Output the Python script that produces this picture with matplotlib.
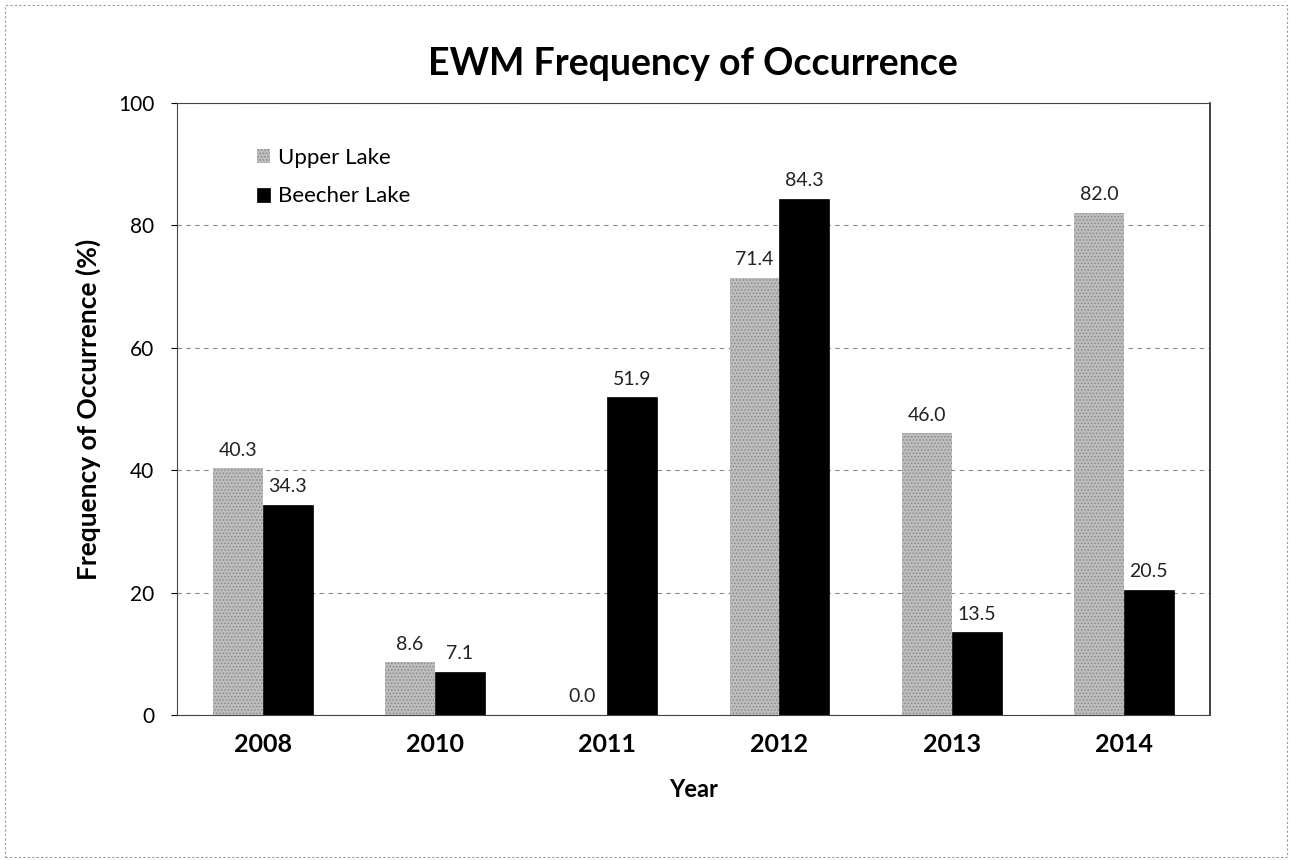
import matplotlib
matplotlib.use("Agg")
import matplotlib.pyplot as plt
import numpy as np
from matplotlib.patches import Rectangle

plt.rcParams['font.family'] = ['Lato', 'DejaVu Sans']
plt.rcParams['hatch.linewidth'] = 0.7

years = ['2008', '2010', '2011', '2012', '2013', '2014']
upper_lake = [40.3, 8.6, 0.0, 71.4, 46.0, 82.0]
beecher_lake = [34.3, 7.1, 51.9, 84.3, 13.5, 20.5]
series_names = ['Upper Lake', 'Beecher Lake']
y_ticks = [0, 20, 40, 60, 80, 100]

fig = plt.figure(figsize=(12.9, 8.6), dpi=100)
ax = fig.add_axes([0.137, 0.1686, 0.801, 0.7116])

x = np.arange(len(years))
w = 0.29
plt.rcParams['hatch.color'] = '#6a6a6a'
b1 = ax.bar(x - w/2, upper_lake, w, color='#bdbdbd', hatch='.....', edgecolor='#8a8a8a',
            linewidth=0, label=series_names[0], zorder=3)
b2 = ax.bar(x + w/2, beecher_lake, w, color='black', edgecolor='black', linewidth=0.5,
            label=series_names[1], zorder=3)

for bars, vals in ((b1, upper_lake), (b2, beecher_lake)):
    for rect, v in zip(bars, vals):
        ax.annotate(f'{v:.1f}', (rect.get_x() + rect.get_width()/2, v),
                    xytext=(0, 7), textcoords='offset points', ha='center', va='bottom',
                    fontsize=14, color='#222222')

ax.set_xlim(-0.5, len(years) - 0.5)
ax.set_ylim(0, 100)
ax.set_yticks(y_ticks)
ax.set_yticklabels([str(t) for t in y_ticks], fontsize=15)
ax.set_xticks(x)
ax.set_xticklabels(years, fontsize=18, fontweight='bold')
ax.tick_params(axis='x', length=0, pad=13)
ax.tick_params(axis='y', length=4, pad=12)
ax.yaxis.grid(True, linestyle=(0, (4, 4)), color='#888888', linewidth=0.8, zorder=0)
ax.set_axisbelow(True)
for s in ax.spines.values():
    s.set_color('#444444')
    s.set_linewidth(0.8)
ax.spines['right'].set_linewidth(1.2)
ax.spines['right'].set_color('#222222')

ax.set_title('EWM Frequency of Occurrence', fontsize=27, fontweight='bold', pad=20)
ax.set_ylabel('Frequency of Occurrence (%)', fontsize=19, fontweight='bold', labelpad=12)
ax.set_xlabel('Year', fontsize=17, fontweight='bold', labelpad=16)

leg = ax.legend(loc='upper left', bbox_to_anchor=(0.058, 0.96), frameon=False, fontsize=16,
                handlelength=0.6, handleheight=0.6, handletextpad=0.35, labelspacing=0.85)

fig.patches.append(Rectangle((0.004, 0.003), 0.994, 0.991, transform=fig.transFigure,
                             fill=False, edgecolor='#999999', linewidth=0.8,
                             linestyle=(0, (2, 2))))

fig.savefig('out.png', dpi=100)
